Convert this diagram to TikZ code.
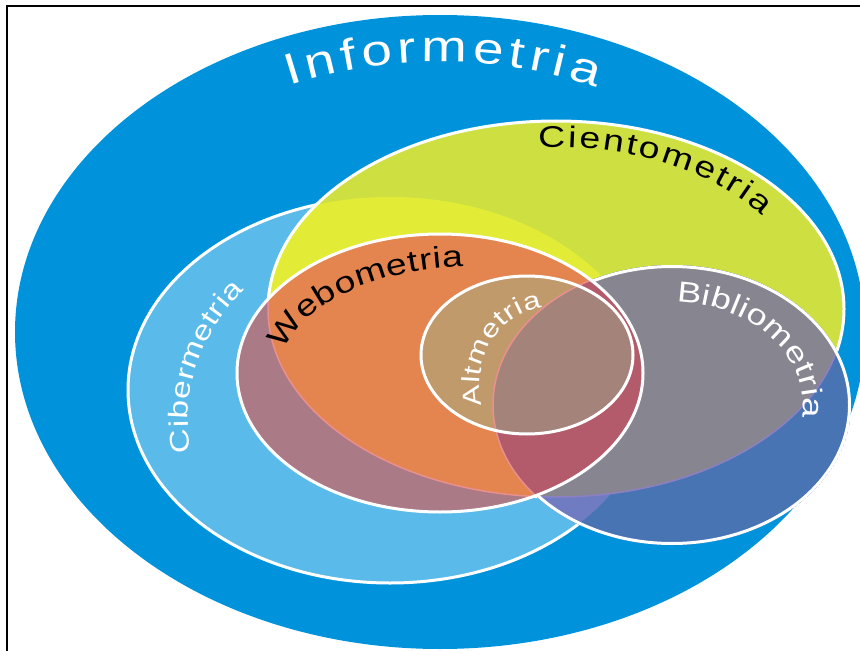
\documentclass[tikz,border=0pt]{standalone}
\usepackage{fontspec}
\setmainfont{Liberation Sans}
\newfontfamily\arcfont[FakeStretch=1.25]{Liberation Sans}
\usetikzlibrary{decorations.text,calc}
\definecolor{infoblue}{RGB}{0,147,220}
\definecolor{ciberblue}{RGB}{90,187,234}
\definecolor{cienyellow}{RGB}{206,223,65}
\definecolor{bandyellow}{RGB}{226,236,54}
\definecolor{weboorange}{RGB}{228,132,79}
\definecolor{webomauve}{RGB}{170,122,135}
\definecolor{alttan}{RGB}{193,154,108}
\definecolor{altgray}{RGB}{164,131,123}
\definecolor{bibgray}{RGB}{134,133,144}
\definecolor{bibblue}{RGB}{72,116,180}
\definecolor{bibviolet}{RGB}{111,124,193}
\definecolor{bibred}{RGB}{179,91,107}
\definecolor{edgepink}{RGB}{233,143,142}
\definecolor{edgeviolet}{RGB}{140,128,196}
\tikzset{
  infoE/.style={x radius=425, y radius=317},
  ciberE/.style={x radius=262, y radius=193},
  cienE/.style={x radius=288, y radius=188},
  weboE/.style={x radius=203, y radius=139},
  altE/.style={x radius=106, y radius=79},
  biblioE/.style={x radius=179, y radius=140},
  ring/.style={draw=white, line width=3bp},
  arclabel/.style={decorate, decoration={text along path, text align={fit to path}, text={#1}}}
}
\begin{document}
\begin{tikzpicture}[x=1bp, y=1bp]
\useasboundingbox (0,0) rectangle (860,-651);
\clip (0,0) rectangle (860,-651);
\coordinate (info) at (440,-332);
\coordinate (ciber) at (390,-390);
\coordinate (cien) at (556,-309);
\coordinate (webo) at (440,-373);
\coordinate (alt) at (527,-355);
\coordinate (biblio) at (672,-405);
\draw[line width=2bp] (7,-651) -- (7,-6) -- (860,-6);
\fill[infoblue] (info) ellipse[infoE];
\fill[ciberblue] (ciber) ellipse[ciberE];
\draw[ring] (ciber) ellipse[ciberE];
\fill[cienyellow] (cien) ellipse[cienE];
\begin{scope}
\clip (cien) ellipse[cienE];
\fill[bandyellow] (ciber) ellipse[ciberE];
\end{scope}
\draw[ring] (cien) ellipse[cienE];
\fill[webomauve] (webo) ellipse[weboE];
\begin{scope}
\clip (webo) ellipse[weboE];
\fill[weboorange] (cien) ellipse[cienE];
\draw[edgepink, line width=1.5bp] (cien) ellipse[cienE];
\end{scope}
\fill[alttan] (alt) ellipse[altE];
\begin{scope}
\clip (biblio) ellipse[biblioE];
\fill[bibblue] (biblio) ellipse[biblioE];
\fill[bibviolet] (ciber) ellipse[ciberE];
\fill[bibgray] (cien) ellipse[cienE];
\draw[edgeviolet, line width=1.5bp] (cien) ellipse[cienE];
\draw[white, line width=6bp] (biblio) ellipse[biblioE];
\fill[bibred] (webo) ellipse[weboE];
\fill[altgray] (alt) ellipse[altE];
\end{scope}
\begin{scope}
\clip (webo) ellipse[weboE];
\draw[edgepink, line width=1.5bp] (biblio) ellipse[biblioE];
\end{scope}
\draw[ring] (webo) ellipse[weboE];
\draw[ring] (alt) ellipse[altE];
\path[arclabel={|\fontsize{44}{44}\arcfont\color{white}|Informetria}]
  ($(info)+(114:371 and 270)$) arc[start angle=114, end angle=65, x radius=371, y radius=270];
\path[arclabel={|\fontsize{30}{30}\arcfont\color{black}|Cientometria}]
  ($(cien)+(94:252 and 162)$) arc[start angle=94, end angle=35, x radius=252, y radius=162];
\path[arclabel={|\fontsize{29}{29}\arcfont\color{white}|Bibliometria}]
  ($(biblio)+(88:131 and 103)$) arc[start angle=88, end angle=-7, x radius=131, y radius=103];
\path[arclabel={|\fontsize{27}{27}\arcfont\color{white}|Cibermetria}]
  ($(390,-420)+(190:202 and 187)$) arc[start angle=190, end angle=136, x radius=202, y radius=187];
\path[arclabel={|\fontsize{30}{30}\arcfont\color{black}|Webometria}]
  ($(470,-377)+(166:192 and 110)$) arc[start angle=166, end angle=92, x radius=192, y radius=110];
\path[arclabel={|\fontsize{25}{25}\arcfont\color{white}|Altmetria}]
  ($(548,-385)+(195:68 and 77)$) arc[start angle=195, end angle=95, x radius=68, y radius=77];
\end{tikzpicture}
\end{document}
